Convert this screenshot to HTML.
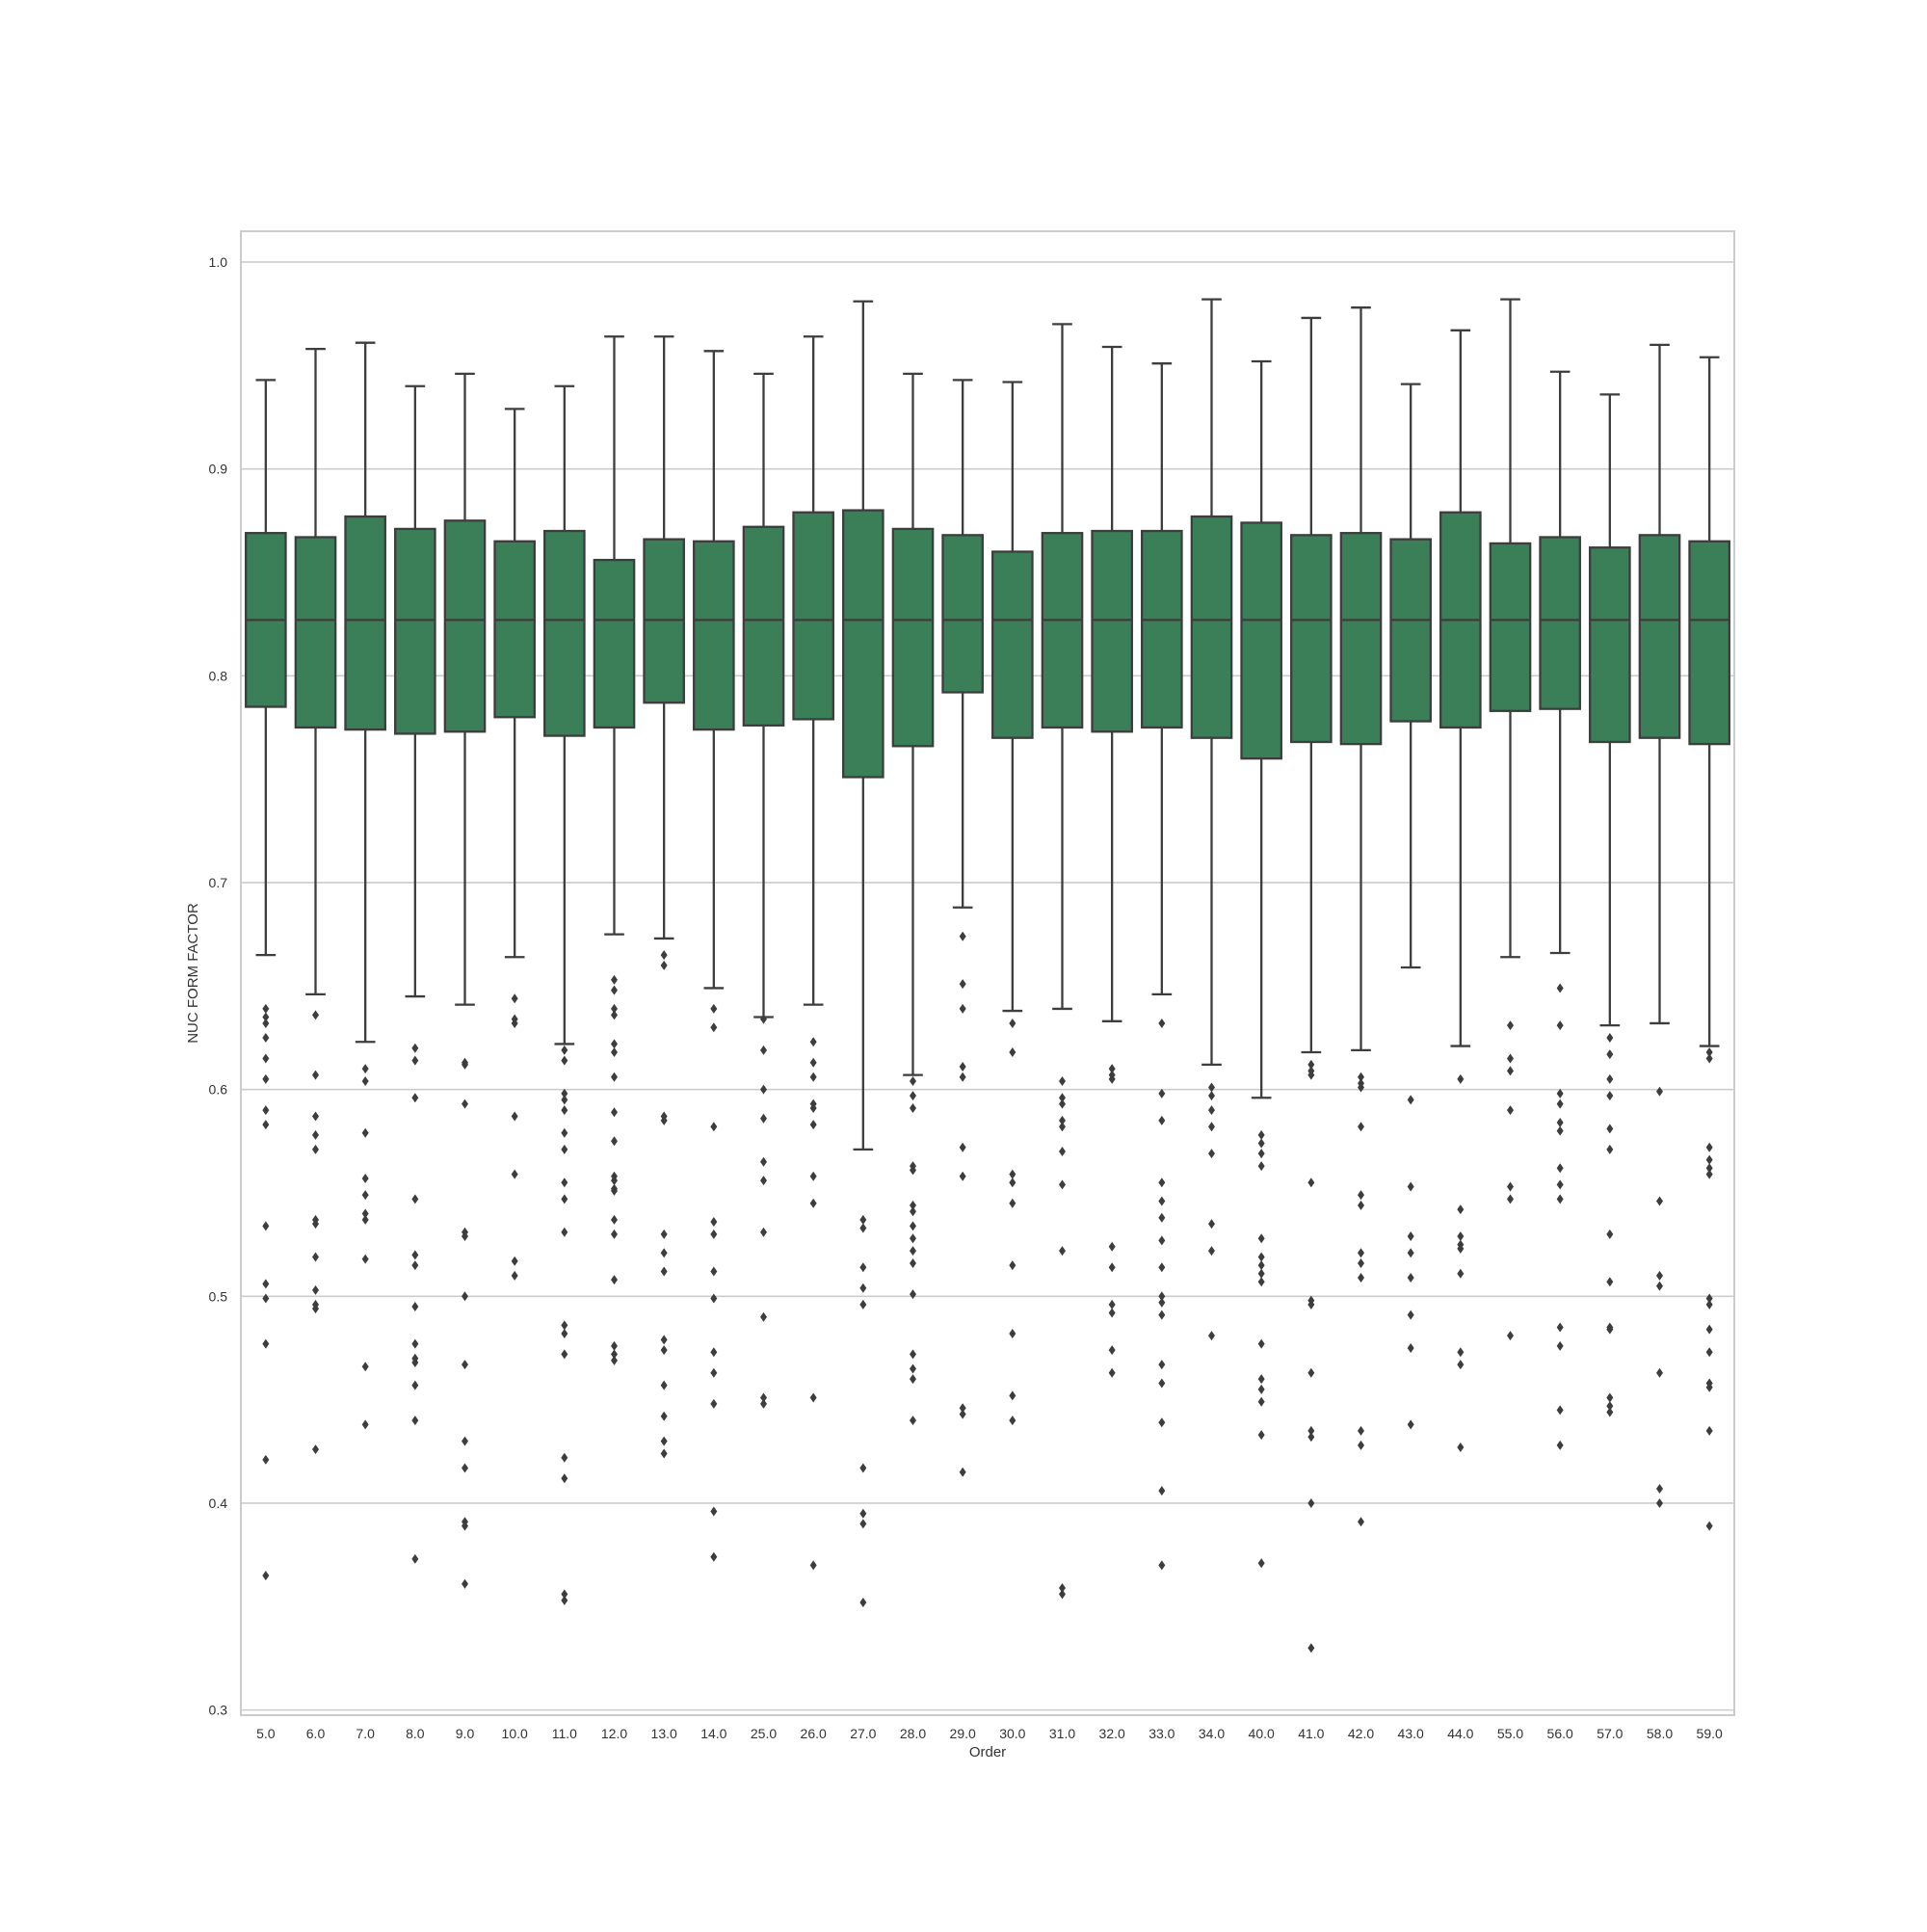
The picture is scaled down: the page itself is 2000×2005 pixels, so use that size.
<!DOCTYPE html>
<html><head><meta charset="utf-8"><style>
body{margin:0;background:#fff}
svg text{font-family:"Liberation Sans",sans-serif;fill:#333}
</style></head><body>
<svg id="chart" width="2000" height="2000" xmlns="http://www.w3.org/2000/svg">
<rect width="2000" height="2000" fill="#fff"/>
<g id="grid"></g>
<g id="boxes"></g>
<rect x="250" y="240" width="1550" height="1540" fill="none" stroke="#cccccc" stroke-width="2"/>
<g id="yticks"></g>
<g id="xticks"></g>
<text x="1025" y="1823" font-size="15" text-anchor="middle">Order</text>
<text x="0" y="0" font-size="15" text-anchor="middle" transform="translate(205,1010) rotate(-90)">NUC FORM FACTOR</text>
</svg>
<script>
const categories=["5.0","6.0","7.0","8.0","9.0","10.0","11.0","12.0","13.0","14.0","25.0","26.0","27.0","28.0","29.0","30.0","31.0","32.0","33.0","34.0","40.0","41.0","42.0","43.0","44.0","55.0","56.0","57.0","58.0","59.0"];
const whiskerHigh=[0.943,0.958,0.961,0.940,0.946,0.929,0.940,0.964,0.964,0.957,0.946,0.964,0.981,0.946,0.943,0.942,0.970,0.959,0.951,0.982,0.952,0.973,0.978,0.941,0.967,0.982,0.947,0.936,0.960,0.954];
const q3=[0.869,0.867,0.877,0.871,0.875,0.865,0.870,0.856,0.866,0.865,0.872,0.879,0.880,0.871,0.868,0.860,0.869,0.870,0.870,0.877,0.874,0.868,0.869,0.866,0.879,0.864,0.867,0.862,0.868,0.865];
const medians=[0.827,0.827,0.827,0.827,0.827,0.827,0.827,0.827,0.827,0.827,0.827,0.827,0.827,0.827,0.827,0.827,0.827,0.827,0.827,0.827,0.827,0.827,0.827,0.827,0.827,0.827,0.827,0.827,0.827,0.827];
const q1=[0.785,0.775,0.774,0.772,0.773,0.780,0.771,0.775,0.787,0.774,0.776,0.779,0.751,0.766,0.792,0.770,0.775,0.773,0.775,0.770,0.760,0.768,0.767,0.778,0.775,0.783,0.784,0.768,0.770,0.767];
const whiskerLow=[0.665,0.646,0.623,0.645,0.641,0.664,0.622,0.675,0.673,0.649,0.635,0.641,0.571,0.607,0.688,0.638,0.639,0.633,0.646,0.612,0.596,0.618,0.619,0.659,0.621,0.664,0.666,0.631,0.632,0.621];
const outliers=[
[0.639,0.635,0.632,0.625,0.615,0.605,0.590,0.583,0.534,0.506,0.499,0.477,0.421,0.365],
[0.636,0.607,0.587,0.578,0.571,0.537,0.535,0.519,0.503,0.496,0.494,0.426],
[0.610,0.604,0.579,0.557,0.549,0.540,0.537,0.518,0.466,0.438],
[0.620,0.614,0.596,0.547,0.520,0.515,0.495,0.477,0.470,0.468,0.457,0.440,0.373],
[0.613,0.612,0.593,0.531,0.529,0.500,0.467,0.430,0.417,0.391,0.389,0.361],
[0.644,0.634,0.632,0.587,0.559,0.517,0.510],
[0.619,0.614,0.598,0.595,0.590,0.579,0.571,0.555,0.547,0.531,0.486,0.482,0.472,0.422,0.412,0.356,0.353],
[0.653,0.648,0.639,0.636,0.622,0.618,0.606,0.589,0.575,0.558,0.556,0.552,0.551,0.537,0.530,0.508,0.476,0.472,0.469],
[0.665,0.660,0.587,0.585,0.530,0.521,0.512,0.479,0.474,0.457,0.442,0.430,0.424],
[0.639,0.630,0.582,0.536,0.530,0.512,0.499,0.473,0.463,0.448,0.396,0.374],
[0.634,0.619,0.600,0.586,0.565,0.556,0.531,0.490,0.451,0.448],
[0.623,0.613,0.606,0.593,0.591,0.583,0.558,0.545,0.451,0.370],
[0.537,0.533,0.514,0.504,0.496,0.417,0.395,0.390,0.352],
[0.604,0.597,0.591,0.563,0.561,0.544,0.541,0.534,0.528,0.522,0.516,0.501,0.472,0.465,0.460,0.440],
[0.674,0.651,0.639,0.611,0.606,0.572,0.558,0.446,0.443,0.415],
[0.632,0.618,0.559,0.555,0.545,0.515,0.482,0.452,0.440],
[0.604,0.596,0.593,0.585,0.582,0.570,0.554,0.522,0.359,0.356],
[0.610,0.607,0.605,0.524,0.514,0.496,0.492,0.474,0.463],
[0.632,0.598,0.585,0.555,0.546,0.538,0.527,0.514,0.500,0.497,0.491,0.467,0.458,0.439,0.406,0.370],
[0.601,0.597,0.590,0.582,0.569,0.535,0.522,0.481],
[0.578,0.574,0.569,0.563,0.528,0.519,0.515,0.511,0.507,0.477,0.460,0.455,0.449,0.433,0.371],
[0.612,0.609,0.607,0.555,0.498,0.496,0.463,0.435,0.432,0.400,0.330],
[0.606,0.603,0.601,0.582,0.549,0.544,0.521,0.516,0.509,0.435,0.428,0.391],
[0.595,0.553,0.529,0.521,0.509,0.491,0.475,0.438],
[0.605,0.542,0.529,0.525,0.523,0.511,0.473,0.467,0.427],
[0.631,0.615,0.609,0.590,0.553,0.547,0.481],
[0.649,0.631,0.598,0.593,0.584,0.580,0.562,0.554,0.547,0.485,0.476,0.445,0.428],
[0.625,0.617,0.605,0.597,0.581,0.571,0.530,0.507,0.485,0.484,0.451,0.447,0.444],
[0.599,0.546,0.510,0.505,0.463,0.407,0.400],
[0.618,0.615,0.572,0.566,0.562,0.559,0.499,0.496,0.484,0.473,0.458,0.456,0.435,0.389]
];
const yTickValues=[0.3,0.4,0.5,0.6,0.7,0.8,0.9,1.0];
const yTickLabels=["0.3","0.4","0.5","0.6","0.7","0.8","0.9","1.0"];

const NS="http://www.w3.org/2000/svg";
const L=250,R=1800,T=240,B=1780,yMin=0.2975,yMax=1.0149;
const y=v=>B-(v-yMin)/(yMax-yMin)*(B-T);
const bw=(R-L)/categories.length;
const x=i=>L+bw*(i+0.5);
function mk(tag,attrs,parent){const e=document.createElementNS(NS,tag);for(const k in attrs)e.setAttribute(k,attrs[k]);parent.appendChild(e);return e;}
const grid=document.getElementById('grid'),yt=document.getElementById('yticks'),xt=document.getElementById('xticks'),boxes=document.getElementById('boxes');
yTickValues.forEach((v,i)=>{
  const g=mk('line',{x1:L,x2:R,y1:y(v),y2:y(v),stroke:'#cccccc','stroke-width':1.6},grid);
  
  
  const t=mk('text',{x:236,y:y(v)+5,'font-size':14,'text-anchor':'end'},yt);
  t.textContent=yTickLabels[i];
  
  
});
const edge='#3d3d3d',hw=bw*0.4;
categories.forEach((c,i)=>{
  const cx=x(i);
  const g=mk('g',{},boxes);
  
  
  mk('line',{x1:cx,x2:cx,y1:y(whiskerHigh[i]),y2:y(q3[i]),stroke:edge,'stroke-width':2.3},g);
  mk('line',{x1:cx,x2:cx,y1:y(q1[i]),y2:y(whiskerLow[i]),stroke:edge,'stroke-width':2.3},g);
  mk('line',{x1:cx-hw/2,x2:cx+hw/2,y1:y(whiskerHigh[i]),y2:y(whiskerHigh[i]),stroke:edge,'stroke-width':2.3},g);
  mk('line',{x1:cx-hw/2,x2:cx+hw/2,y1:y(whiskerLow[i]),y2:y(whiskerLow[i]),stroke:edge,'stroke-width':2.3},g);
  mk('rect',{x:cx-hw,y:y(q3[i]),width:2*hw,height:y(q1[i])-y(q3[i]),fill:'#3a7f58',stroke:edge,'stroke-width':2.3},g);
  mk('line',{x1:cx-hw,x2:cx+hw,y1:y(medians[i]),y2:y(medians[i]),stroke:edge,'stroke-width':2.3},g);
  outliers[i].forEach(v=>{
    const py=y(v);
    const p=mk('polygon',{points:`${cx},${py-5} ${cx+3.5},${py} ${cx},${py+5} ${cx-3.5},${py}`,fill:edge},g);
    
    
  });
  const t=mk('text',{x:cx,y:1804,'font-size':14,'text-anchor':'middle'},xt);
  t.textContent=c;
  
  
});
</script>
</body></html>
